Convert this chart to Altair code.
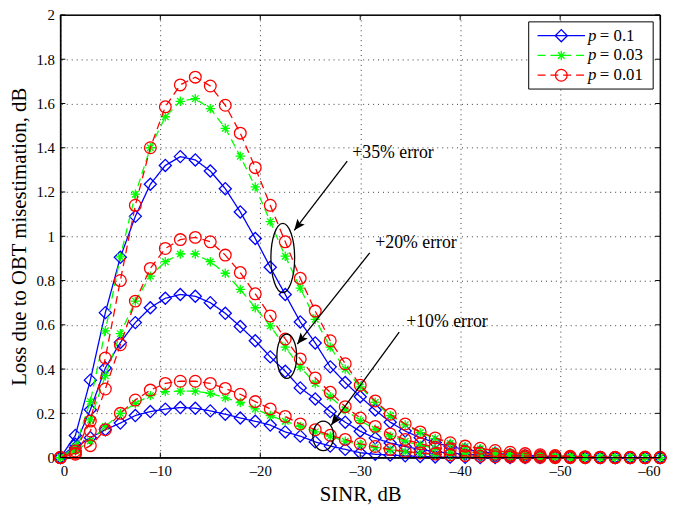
import altair as alt
import pandas as pd

SERIF = "Liberation Serif"

# SINR grid (dB)
SINR = [0, -1.5, -3, -4.5, -6, -7.5, -9, -10.5, -12, -13.5, -15, -16.5, -18, -19.5, -21,
        -22.5, -24, -25.5, -27, -28.5, -30, -31.5, -33, -34.5, -36, -37.5, -39, -40.5,
        -42, -43.5, -45, -46.5, -48, -49.5, -51, -52.5, -54, -55.5, -57, -58.5, -60]

# +35% error
P01_35 = [0, 0.10, 0.35, 0.655, 0.905, 1.09, 1.235, 1.32, 1.36, 1.345, 1.295, 1.215, 1.11, 0.99,
          0.86, 0.737, 0.613, 0.518, 0.41, 0.339, 0.275, 0.215, 0.16, 0.12, 0.09, 0.068, 0.05,
          0.037, 0.027, 0.02, 0.014, 0.01, 0.007, 0.005, 0.003, 0.002, 0.001, 0, 0, 0, 0]
P003_35 = [0, 0.05, 0.254, 0.573, 0.907, 1.19, 1.40, 1.54, 1.61, 1.622, 1.577, 1.488, 1.362, 1.223,
           1.066, 0.91, 0.766, 0.625, 0.499, 0.40, 0.32, 0.25, 0.19, 0.148, 0.113, 0.086, 0.065,
           0.05, 0.04, 0.03, 0.022, 0.016, 0.012, 0.008, 0.005, 0.003, 0.002, 0.001, 0, 0, 0]
P001_35 = [0, 0.03, 0.165, 0.45, 0.80, 1.14, 1.40, 1.585, 1.684, 1.719, 1.679, 1.592, 1.466, 1.31,
           1.14, 0.975, 0.81, 0.662, 0.528, 0.424, 0.327, 0.256, 0.196, 0.152, 0.116, 0.089, 0.067,
           0.052, 0.042, 0.032, 0.024, 0.018, 0.013, 0.009, 0.006, 0.004, 0.002, 0.001, 0, 0, 0]
# +20% error
P01_20 = [0, 0.06, 0.216, 0.405, 0.52, 0.61, 0.677, 0.72, 0.737, 0.729, 0.70, 0.652, 0.592, 0.528,
          0.455, 0.39, 0.315, 0.265, 0.208, 0.16, 0.119, 0.088, 0.066, 0.05, 0.037, 0.027, 0.02,
          0.015, 0.011, 0.008, 0.006, 0.004, 0.003, 0.002, 0.001, 0, 0, 0, 0, 0, 0]
P003_20 = [0, 0.04, 0.17, 0.37, 0.56, 0.707, 0.82, 0.885, 0.92, 0.92, 0.885, 0.833, 0.76, 0.677,
           0.595, 0.499, 0.409, 0.335, 0.275, 0.216, 0.167, 0.128, 0.097, 0.074, 0.056, 0.042, 0.032,
           0.024, 0.018, 0.013, 0.01, 0.007, 0.005, 0.003, 0.002, 0.001, 0, 0, 0, 0, 0]
P001_20 = [0, 0.02, 0.12, 0.31, 0.51, 0.707, 0.855, 0.945, 0.985, 0.995, 0.975, 0.915, 0.836, 0.74,
           0.64, 0.536, 0.446, 0.36, 0.295, 0.23, 0.179, 0.141, 0.107, 0.082, 0.0625, 0.047, 0.036,
           0.027, 0.02, 0.015, 0.011, 0.008, 0.006, 0.004, 0.003, 0.002, 0.001, 0, 0, 0, 0]
# +10% error
P01_10 = [0, 0.045, 0.09, 0.126, 0.156, 0.19, 0.208, 0.219, 0.226, 0.223, 0.211, 0.196, 0.179, 0.164,
          0.147, 0.116, 0.097, 0.071, 0.052, 0.037, 0.022, 0.015, 0.011, 0.008, 0.005, 0.003, 0.002,
          0.001, 0, 0, 0, 0, 0, 0, 0, 0, 0, 0, 0, 0, 0]
P003_10 = [0, 0.03, 0.075, 0.14, 0.2, 0.245, 0.28, 0.298, 0.30, 0.30, 0.29, 0.27, 0.249, 0.22,
           0.19, 0.164, 0.141, 0.116, 0.097, 0.074, 0.06, 0.045, 0.034, 0.026, 0.019, 0.014, 0.01,
           0.007, 0.005, 0.003, 0.002, 0.001, 0, 0, 0, 0, 0, 0, 0, 0, 0]
P001_10 = [0, 0.015, 0.054, 0.126, 0.2, 0.26, 0.305, 0.335, 0.345, 0.345, 0.335, 0.3125, 0.286, 0.253,
           0.22, 0.186, 0.152, 0.126, 0.101, 0.082, 0.0625, 0.05, 0.037, 0.028, 0.021, 0.016, 0.012,
           0.009, 0.006, 0.004, 0.003, 0.002, 0.001, 0, 0, 0, 0, 0, 0, 0, 0]

SERIES = ["0.1", "0.03", "0.01"]
ERRORS = ["+10%", "+20%", "+35%"]
VALUES = {
    ("0.1", "+10%"): P01_10, ("0.1", "+20%"): P01_20, ("0.1", "+35%"): P01_35,
    ("0.03", "+10%"): P003_10, ("0.03", "+20%"): P003_20, ("0.03", "+35%"): P003_35,
    ("0.01", "+10%"): P001_10, ("0.01", "+20%"): P001_20, ("0.01", "+35%"): P001_35,
}

X_TICKS = [0, -10, -20, -30, -40, -50, -60]
Y_TICKS = [0, 0.2, 0.4, 0.6, 0.8, 1, 1.2, 1.4, 1.6, 1.8, 2]

# annotations
ANN_TEXT = ["+35% error", "+20% error", "+10% error"]
ANN_TEXT_X = [-29.2, -31.5, -34.6]
ANN_TEXT_Y = [1.375, 0.969, 0.612]
ARROW_X1 = [-28.7, -30.95, -33.9]
ARROW_Y1 = [1.34, 0.925, 0.567]
ARROW_X2 = [-23.4, -23.7, -27.1]
ARROW_Y2 = [1.027, 0.513, 0.147]
ARROW_ANGLE = [218, 219, 217]
ELL_X = [-22.25, -22.65, -26.3]
ELL_Y = [0.902, 0.458, 0.098]
ELL_A = [12, 10, 10.5]   # half width px
ELL_B = [35, 22.5, 15]   # half height px

W, H = 607, 448
COLORS = {"0.1": "#0000ff", "0.03": "#00ff00", "0.01": "#ff0000"}
DASH = {"0.1": [1, 0], "0.03": [8, 5], "0.01": [8, 5]}
STAR = "M -1 0 L 1 0 M 0 -1 L 0 1 M -0.7 -0.7 L 0.7 0.7 M -0.7 0.7 L 0.7 -0.7"
SHAPE = {"0.1": "diamond", "0.03": STAR, "0.01": "circle"}
MSIZE = {"0.1": 150, "0.03": 90, "0.01": 140}

rows = []
for p in SERIES:
    for e in ERRORS:
        for x, y in zip(SINR, VALUES[(p, e)]):
            rows.append({"x": x, "y": y, "p": p, "err": e})
df = pd.DataFrame(rows)

xscale = alt.Scale(domain=[-60, 0], reverse=True, nice=False, zero=False)
yscale = alt.Scale(domain=[0, 2], nice=False)

xaxis = alt.Axis(values=X_TICKS, title="SINR, dB",
                 labelExpr="datum.value == 0 ? '0' : '\u2013' + abs(datum.value)",
                 grid=True, ticks=False, labelFont=SERIF, labelFontSize=15, labelColor="black",
                 titleFont=SERIF, titleFontSize=21, titleFontWeight="normal", titleColor="black",
                 labelPadding=6, titlePadding=5, domainColor="black",
                 gridColor="#222", gridDash=[1, 4], gridWidth=0.9)
yaxis = alt.Axis(values=Y_TICKS, title="Loss due to OBT misestimation, dB", format="~g",
                 grid=True, ticks=False, labelFont=SERIF, labelFontSize=15, labelColor="black",
                 titleFont=SERIF, titleFontSize=21, titleFontWeight="normal", titleColor="black",
                 labelPadding=6, titlePadding=7, domainColor="black",
                 gridColor="#222", gridDash=[1, 4], gridWidth=0.9)


def X(field):
    return alt.X(field, type="quantitative", scale=xscale, axis=xaxis)


def Y(field):
    return alt.Y(field, type="quantitative", scale=yscale, axis=yaxis)


layers = []
base = alt.Chart(df)
for p in SERIES:
    sub = base.transform_filter(alt.datum.p == p)
    line = sub.mark_line(color=COLORS[p], strokeWidth=1.3, strokeDash=DASH[p]).encode(
        x=X("x"), y=Y("y"), detail="err:N", order="x:Q")
    pts = sub.mark_point(shape=SHAPE[p], color=COLORS[p], filled=False, size=MSIZE[p],
                         strokeWidth=1.3, opacity=1).encode(x=X("x"), y=Y("y"))
    layers += [line, pts]

# frame and inward ticks on all four sides
one = pd.DataFrame({"a": [0]})
layers.append(alt.Chart(one).mark_rect(fill=None, stroke="black", strokeWidth=1).encode(
    x=alt.value(0), x2=alt.value(W), y=alt.value(0), y2=alt.value(H)))
xt = pd.DataFrame({"t": X_TICKS})
yt = pd.DataFrame({"t": Y_TICKS})
tick_style = dict(color="black", strokeWidth=1)
layers.append(alt.Chart(xt).mark_rule(**tick_style).encode(
    x=X("t"), y=alt.value(H), y2=alt.value(H - 5)))
layers.append(alt.Chart(xt).mark_rule(**tick_style).encode(
    x=X("t"), y=alt.value(0), y2=alt.value(5)))
layers.append(alt.Chart(yt).mark_rule(**tick_style).encode(
    y=Y("t"), x=alt.value(0), x2=alt.value(5)))
layers.append(alt.Chart(yt).mark_rule(**tick_style).encode(
    y=Y("t"), x=alt.value(W), x2=alt.value(W - 5)))

# annotations
ann = pd.DataFrame({"text": ANN_TEXT, "tx": ANN_TEXT_X, "ty": ANN_TEXT_Y,
                    "x1": ARROW_X1, "y1": ARROW_Y1, "x2": ARROW_X2, "y2": ARROW_Y2,
                    "ang": ARROW_ANGLE})
layers.append(alt.Chart(ann).mark_text(font=SERIF, fontSize=18, align="left", baseline="middle",
                                       color="black").encode(
    x=X("tx"), y=Y("ty"), text="text:N"))
layers.append(alt.Chart(ann).mark_rule(color="black", strokeWidth=1.3).encode(
    x=X("x1"), y=Y("y1"), x2="x2:Q", y2="y2:Q"))
ARROW = "M 0 0 L 0.42 1 L 0 0.8 L -0.42 1 Z"
layers.append(alt.Chart(ann).mark_point(shape=ARROW, filled=True, color="black", size=500,
                                        opacity=1).encode(
    x=X("x2"), y=Y("y2"), angle=alt.Angle("ang:Q", scale=None)))
for i in range(3):
    a = ELL_A[i] / ELL_B[i]
    path = f"M {-a:.4f} 0 A {a:.4f} 1 0 1 1 {a:.4f} 0 A {a:.4f} 1 0 1 1 {-a:.4f} 0 Z"
    e = pd.DataFrame({"x": [ELL_X[i]], "y": [ELL_Y[i]]})
    layers.append(alt.Chart(e).mark_point(shape=path, filled=False, color="black", strokeWidth=1.3,
                                          size=(2 * ELL_B[i]) ** 2, opacity=1).encode(
        x=X("x"), y=Y("y")))

# legend (manual)
LEG_X0, LEG_X1, LEG_Y0, LEG_Y1 = 474, 600, 7, 75
layers.append(alt.Chart(one).mark_rect(fill="white", stroke="black", strokeWidth=1).encode(
    x=alt.value(LEG_X0), x2=alt.value(LEG_X1), y=alt.value(LEG_Y0), y2=alt.value(LEG_Y1)))
for i, p in enumerate(SERIES):
    yv = 21 + 20 * i
    layers.append(alt.Chart(one).mark_rule(color=COLORS[p], strokeWidth=1.3, strokeDash=DASH[p]).encode(
        x=alt.value(483), x2=alt.value(531), y=alt.value(yv)))
    layers.append(alt.Chart(one).mark_point(shape=SHAPE[p], color=COLORS[p], filled=False, size=MSIZE[p],
                                            strokeWidth=1.3, opacity=1).encode(
        x=alt.value(507), y=alt.value(yv)))
    layers.append(alt.Chart(one).mark_text(text="p", font=SERIF, fontStyle="italic", fontSize=17,
                                           align="left", baseline="middle", color="black").encode(
        x=alt.value(534), y=alt.value(yv)))
    layers.append(alt.Chart(one).mark_text(text="= " + p, font=SERIF, fontSize=17,
                                           align="left", baseline="middle", color="black").encode(
        x=alt.value(546), y=alt.value(yv)))

chart = alt.layer(*layers).properties(
    width=W, height=H,
    autosize=alt.AutoSizeParams(type="none"),
    padding={"left": 53, "top": 4, "right": 8, "bottom": 50},
    background="white",
).configure_view(stroke="black", strokeWidth=1)

chart.save("out.html", embed_options={"renderer": "svg", "actions": False})
